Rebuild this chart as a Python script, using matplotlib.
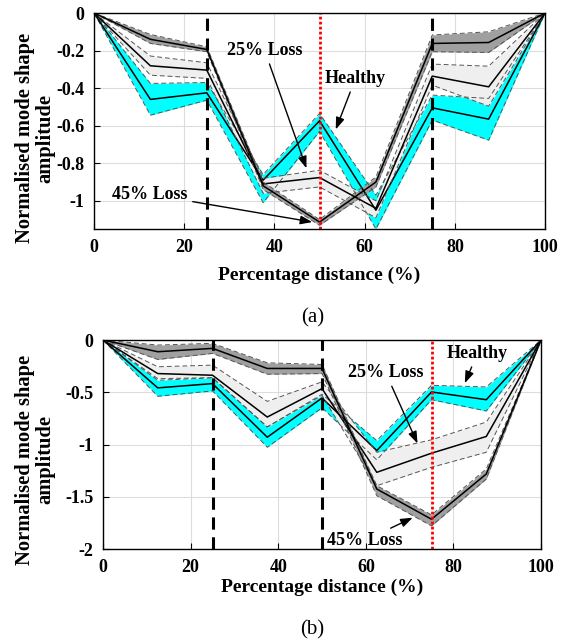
import matplotlib
matplotlib.use("Agg")
import matplotlib.pyplot as plt
import numpy as np

plt.rcParams["font.family"] = ["Liberation Serif", "DejaVu Serif"]
plt.rcParams["axes.unicode_minus"] = False

x = [0, 12.5, 25, 37.5, 50, 62.5, 75, 87.5, 100]

# (a) damage at 25, 50, 75 %
a_healthy_mean = [0, -0.46, -0.425, -0.89, -0.574, -1.05, -0.505, -0.565, 0]
a_healthy_up = [0, -0.375, -0.37, -0.86, -0.535, -0.97, -0.437, -0.455, 0]
a_healthy_lo = [0, -0.544, -0.464, -1.01, -0.63, -1.15, -0.57, -0.677, 0]

a_loss25_mean = [0, -0.281, -0.304, -0.91, -0.876, -1.04, -0.336, -0.393, 0]
a_loss25_up = [0, -0.229, -0.265, -0.88, -0.837, -1.0, -0.272, -0.283, 0]
a_loss25_lo = [0, -0.331, -0.348, -0.96, -0.926, -1.09, -0.384, -0.496, 0]

a_loss45_mean = [0, -0.14, -0.194, -0.92, -1.113, -0.9, -0.162, -0.157, 0]
a_loss45_up = [0, -0.114, -0.18, -0.9, -1.1, -0.873, -0.117, -0.1, 0]
a_loss45_lo = [0, -0.162, -0.206, -0.94, -1.13, -0.926, -0.206, -0.21, 0]

# (b)
b_healthy_mean = [0, -0.458, -0.417, -0.93, -0.555, -1.058, -0.497, -0.571, 0]
b_healthy_up = [0, -0.385, -0.362, -0.833, -0.519, -0.962, -0.433, -0.449, 0]
b_healthy_lo = [0, -0.538, -0.487, -1.026, -0.648, -1.147, -0.571, -0.679, 0]

b_loss25_mean = [0, -0.321, -0.337, -0.737, -0.465, -1.266, -1.083, -0.923, 0]
b_loss25_up = [0, -0.256, -0.24, -0.587, -0.4, -1.074, -0.955, -0.785, 0]
b_loss25_lo = [0, -0.37, -0.36, -0.83, -0.53, -1.394, -1.218, -1.074, 0]

b_loss45_mean = [0, -0.112, -0.08, -0.272, -0.272, -1.426, -1.715, -1.282, 0]
b_loss45_up = [0, -0.048, -0.032, -0.218, -0.234, -1.394, -1.673, -1.234, 0]
b_loss45_lo = [0, -0.186, -0.128, -0.327, -0.321, -1.49, -1.779, -1.33, 0]


def band(ax, up, mean, lo, color):
    ax.fill_between(x, up, lo, color=color, lw=0)
    ax.plot(x, up, color="#555555", lw=0.7, ls=(0, (5, 3)))
    ax.plot(x, lo, color="#555555", lw=0.7, ls=(0, (5, 3)))
    ax.plot(x, mean, color="black", lw=1.1)


def style(ax, ylim, yticks, labelpad):
    ax.set_xlim(0, 100)
    ax.set_ylim(*ylim)
    ax.set_xticks([0, 20, 40, 60, 80, 100])
    ax.set_yticks(yticks)
    ax.grid(True, color="#dddddd", lw=0.8)
    ax.set_axisbelow(True)
    for lab in ax.get_xticklabels() + ax.get_yticklabels():
        lab.set_fontweight("bold")
        lab.set_fontsize(13)
    ax.tick_params(direction="in", length=4, width=0.8, pad=7)
    ax.set_xlabel("Percentage distance (%)", fontsize=14, fontweight="bold", labelpad=labelpad)
    ax.set_ylabel("Normalised mode shape\namplitude", fontsize=14.8,
                  fontweight="bold", linespacing=1.05)
    for s in ax.spines.values():
        s.set_linewidth(1.0)


arrow = dict(arrowstyle="-|>,head_length=0.55,head_width=0.2", color="black", lw=1.0,
             shrinkA=2, shrinkB=0)
txt = dict(fontsize=13, fontweight="bold", ha="center", va="center")

fig = plt.figure(figsize=(5.62, 6.44), dpi=100)

ax1 = fig.add_axes([0.1673, 0.6444, 0.8025, 0.3354])
band(ax1, a_healthy_up, a_healthy_mean, a_healthy_lo, "#00ffff")
band(ax1, a_loss25_up, a_loss25_mean, a_loss25_lo, "#efefef")
band(ax1, a_loss45_up, a_loss45_mean, a_loss45_lo, "#a0a0a0")
ax1.axvline(25, color="black", lw=2.2, ls=(0, (4, 2.5)))
ax1.axvline(75, color="black", lw=2.2, ls=(0, (4, 2.5)))
ax1.axvline(50, color="red", lw=2.0, ls=(0, (1, 0.8)))
style(ax1, (-1.15, 0), [-1, -0.8, -0.6, -0.4, -0.2, 0], 8)
ax1.set_yticklabels(["-1", "-0.8", "-0.6", "-0.4", "-0.2", "0"], fontweight="bold", fontsize=13)
ax1.yaxis.set_label_coords(-0.085, 0.42)
ax1.annotate("25% Loss", xy=(47.1, -0.827), xytext=(37.8, -0.197), arrowprops=arrow, **txt)
ax1.annotate("Healthy", xy=(53.6, -0.62), xytext=(58, -0.347), arrowprops=arrow, **txt)
ax1.annotate("45% Loss", xy=(48.4, -1.113), xytext=(12.3, -0.965), arrowprops=arrow, **txt)
fig.text(0.556, 0.506, "(a)", fontsize=15, ha="center", va="center")

ax2 = fig.add_axes([0.1833, 0.1475, 0.7794, 0.3245])
band(ax2, b_healthy_up, b_healthy_mean, b_healthy_lo, "#00ffff")
band(ax2, b_loss25_up, b_loss25_mean, b_loss25_lo, "#efefef")
band(ax2, b_loss45_up, b_loss45_mean, b_loss45_lo, "#a0a0a0")
ax2.axvline(25, color="black", lw=2.2, ls=(0, (4, 2.5)))
ax2.axvline(50, color="black", lw=2.2, ls=(0, (4, 2.5)))
ax2.axvline(75, color="red", lw=2.0, ls=(0, (1, 0.8)))
style(ax2, (-2, 0), [-2, -1.5, -1, -0.5, 0], 2)
ax2.set_yticklabels(["-2", "-1.5", "-1", "-0.5", "0"], fontweight="bold", fontsize=13)
ax2.yaxis.set_label_coords(-0.108, 0.426)
ax2.annotate("Healthy", xy=(82.6, -0.413), xytext=(85.5, -0.125), arrowprops=arrow, **txt)
ax2.annotate("25% Loss", xy=(71.8, -0.99), xytext=(64.5, -0.31), arrowprops=arrow, **txt)
ax2.annotate("45% Loss", xy=(70.7, -1.70), xytext=(59.7, -1.92), arrowprops=arrow, **txt)
fig.text(0.556, 0.022, "(b)", fontsize=15, ha="center", va="center")

fig.savefig("out.png", dpi=100)
